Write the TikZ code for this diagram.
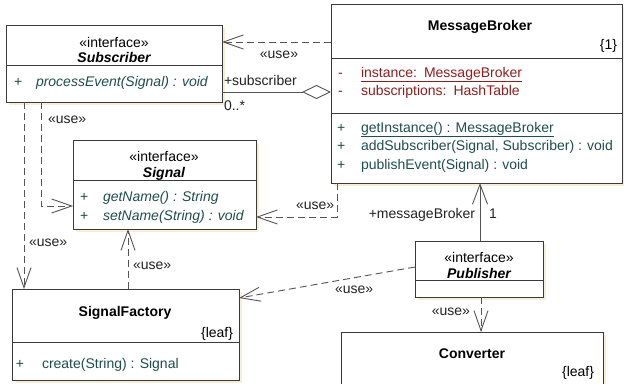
\documentclass[tikz,border=0pt]{standalone}
\usepackage{fontspec}
\setmainfont{Liberation Sans}
\usetikzlibrary{arrows.meta,shadows}
\definecolor{boxline}{HTML}{3A3A3A}
\definecolor{connline}{HTML}{555555}
\definecolor{opcol}{HTML}{1F4D4D}
\definecolor{attrcol}{HTML}{8E1E1E}
\definecolor{shade}{HTML}{F6EFD8}
\definecolor{labelcol}{HTML}{222222}
\begin{document}
\begin{tikzpicture}[x=1pt,y=-1pt,
  font=\fontsize{14}{16}\selectfont,
  every node/.style={inner sep=0pt, outer sep=0pt},
  cls/.style={draw=boxline, line width=0.9pt, fill=white, anchor=north west,
    general shadow={fill=shade, shadow xshift=3pt, shadow yshift=-3pt}},
  sep/.style={draw=boxline, line width=0.9pt},
  txt/.style={anchor=base, text=black},
  ttl/.style={anchor=base, text=black, font=\fontsize{14}{16}\selectfont\bfseries},
  ittl/.style={anchor=base, text=black, font=\fontsize{14}{16}\selectfont\bfseries\itshape},
  op/.style={anchor=base west, text=opcol},
  attr/.style={anchor=base west, text=attrcol},
  lbl/.style={text=labelcol},
  dep/.style={draw=connline, line width=0.9pt, dash pattern=on 7pt off 4pt,
    -{Straight Barb[length=20pt, width=14pt, line width=0.9pt]}},
  assoc/.style={draw=connline, line width=0.9pt,
    -{Straight Barb[length=20pt, width=15pt, line width=0.9pt]}},
  agg/.style={draw=connline, line width=0.9pt,
    -{Diamond[open, length=29pt, width=14pt, line width=0.9pt, fill=white]}}]
\clip (0,0) rectangle (624,383);
\fill[white] (0,0) rectangle (624,383);

% ---- Subscriber interface
\node[cls, minimum width=216pt, minimum height=77pt] (sub) at (6,25) {};
\draw[sep] (sub.west |- 0,65) -- (sub.east |- 0,65);
\node[txt] (subst) at (114,47) {«interface»};
\node[ittl] (subname) at (114,62) {Subscriber};
\node[op] (subp) at (14,86) {+};
\node[op] (subm) at (36,86) {\itshape processEvent(Signal) : void};

% ---- MessageBroker class
\node[cls, minimum width=291pt, minimum height=179pt] (mb) at (331,4) {};
\draw[sep] (mb.west |- 0,58) -- (mb.east |- 0,58);
\draw[sep] (mb.west |- 0,113) -- (mb.east |- 0,113);
\node[ttl] (mbname) at (480,30) {MessageBroker};
\node[anchor=base east] (mbmult) at (617,49) {\{1\}};
\node[attr] (mba1s) at (338,77) {-};
\node[attr] (mba1) at (361,77) {\underline{instance:\enspace MessageBroker}};
\node[attr] (mba2s) at (338,95) {-};
\node[attr] (mba2) at (361,95) {subscriptions:\enspace HashTable};
\node[op] (mbo1s) at (337,132) {+};
\node[op] (mbo1) at (361,132) {\underline{getInstance() : MessageBroker}};
\node[op] (mbo2s) at (337,150) {+};
\node[op] (mbo2) at (361,150) {addSubscriber(Signal, Subscriber) : void};
\node[op] (mbo3s) at (337,169) {+};
\node[op] (mbo3) at (361,169) {publishEvent(Signal) : void};

% ---- Signal interface
\node[cls, minimum width=183pt, minimum height=89pt] (sig) at (73,140) {};
\draw[sep] (sig.west |- 0,180) -- (sig.east |- 0,180);
\node[txt] (sigst) at (164,161) {«interface»};
\node[ittl] (signame) at (164,177) {Signal};
\node[op] (sigo1s) at (80,201) {+};
\node[op] (sigo1) at (103,201) {\itshape getName() : String};
\node[op] (sigo2s) at (80,220) {+};
\node[op] (sigo2) at (103,220) {\itshape setName(String) : void};

% ---- SignalFactory class
\node[cls, minimum width=227pt, minimum height=91pt] (sf) at (12,289) {};
\draw[sep] (sf.west |- 0,342) -- (sf.east |- 0,342);
\node[ttl] (sfname) at (125,316) {SignalFactory};
\node[anchor=base east] (sfleaf) at (233,337) {\{leaf\}};
\node[op] (sfo1s) at (16,368) {+};
\node[op] (sfo1) at (42,368) {create(String) : Signal};

% ---- Publisher interface
\node[cls, minimum width=128pt, minimum height=56pt] (pub) at (415,241) {};
\draw[sep] (pub.west |- 0,280) -- (pub.east |- 0,280);
\node[txt] (pubst) at (479,262) {«interface»};
\node[ittl] (pubname) at (479,278) {Publisher};

% ---- Converter class
\node[cls, minimum width=262pt, minimum height=70pt] (conv) at (341,332) {};
\node[ttl] (convname) at (472,358) {Converter};
\node[anchor=base east] (convleaf) at (594,376) {\{leaf\}};

% ---- relationships
\draw[dep] (mb.west |- 0,42) -- (sub.east |- 0,42);
\node[lbl, anchor=base] (u1) at (279,58) {«use»};

\draw[agg] (sub.east |- 0,92) -- (mb.west |- 0,92);
\node[lbl, anchor=base west] (rsub) at (224,85) {+subscriber};
\node[lbl, anchor=base west] (msub) at (224,110) {0..*};

\draw[dep] (sub.south -| 41,0) |- (sig.west |- 0,206);
\node[lbl, anchor=base west] (u2) at (48,123) {«use»};

\draw[dep] (sub.south -| 24,0) -- (sf.north -| 24,0);
\node[lbl, anchor=base west] (u3) at (29,246) {«use»};

\draw[dep] (mb.south -| 337,0) |- (sig.east |- 0,217);
\node[lbl, anchor=base west] (u4) at (296,209) {«use»};

\draw[dep] (sf.north -| 128,0) -- (sig.south -| 128,0);
\node[lbl, anchor=base west] (u5) at (133,269) {«use»};

\draw[dep] (pub.west |- 0,267) -- (sf.east |- 0,298);
\node[lbl, anchor=base west] (u6) at (335,293) {«use»};

\draw[assoc] (pub.north -| 480,0) -- (mb.south -| 480,0);
\node[lbl, anchor=base east] (rmb) at (475,218) {+messageBroker};
\node[lbl, anchor=base west] (mmb) at (489,218) {1};

\draw[dep] (pub.south -| 481,0) -- (conv.north -| 481,0);
\node[lbl, anchor=base east] (u7) at (470,315) {«use»};
\end{tikzpicture}
\end{document}
